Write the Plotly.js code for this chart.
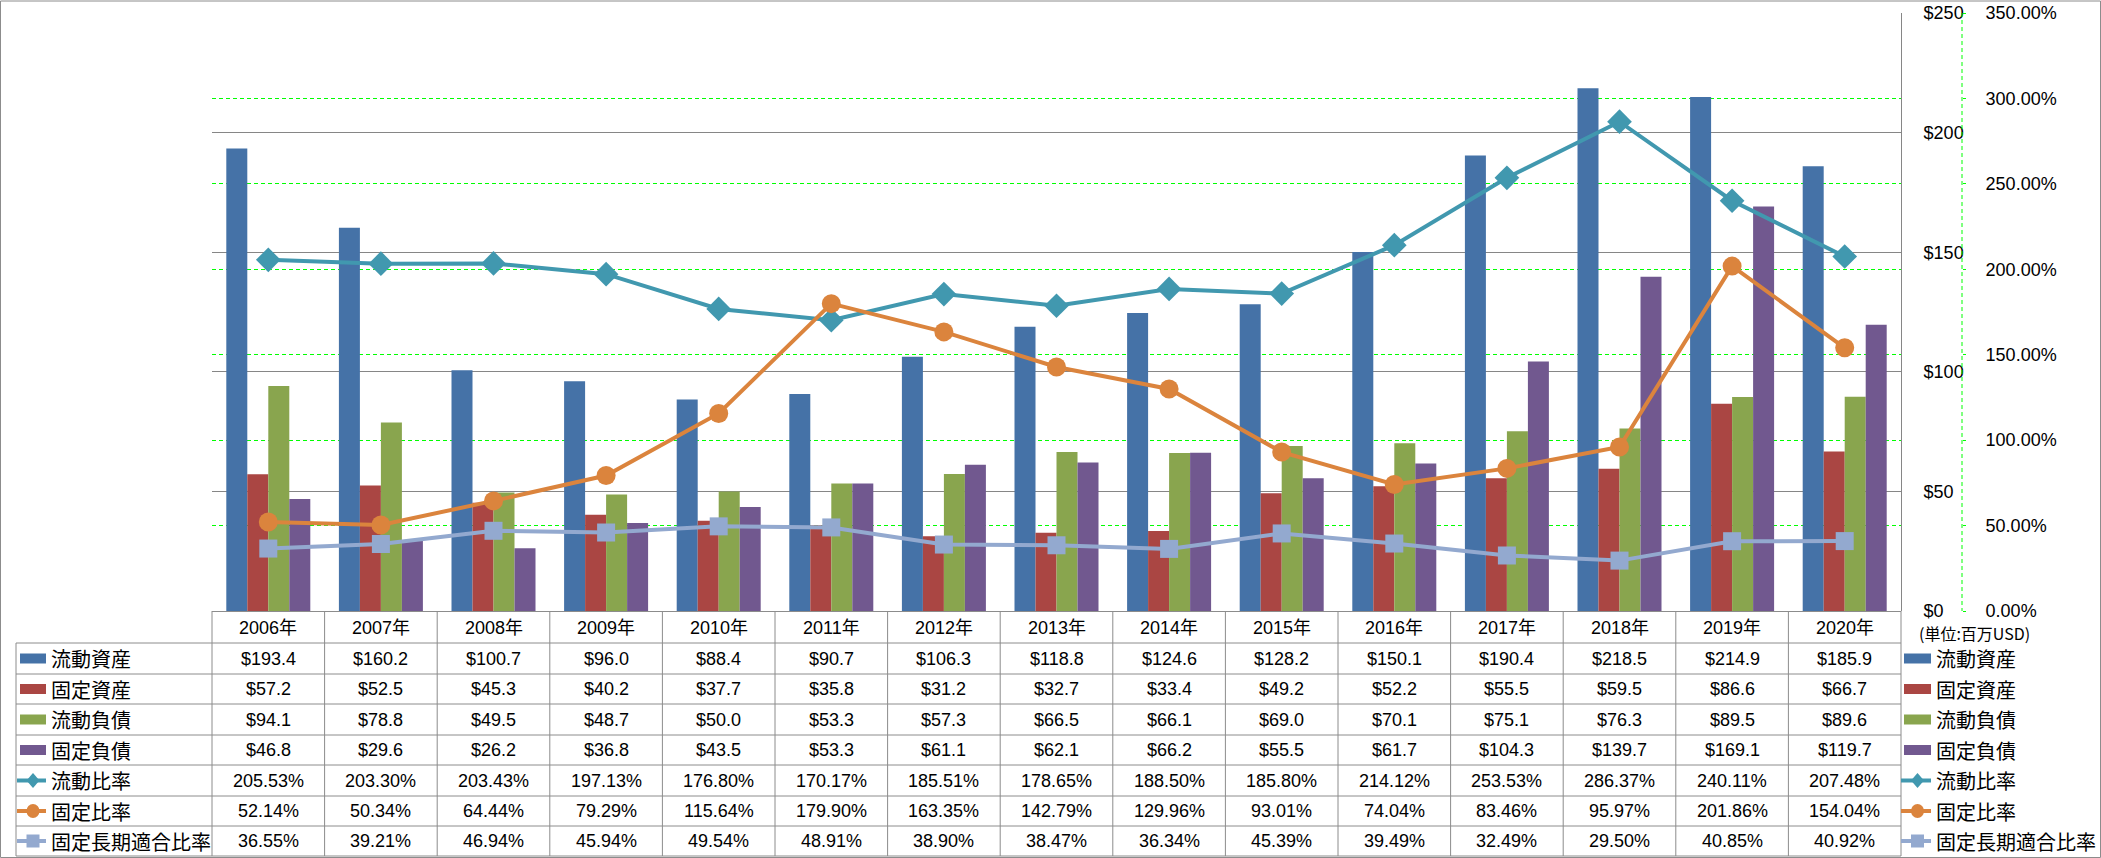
<!DOCTYPE html>
<html>
<head>
<meta charset="utf-8">
<script src="https://cdn.plot.ly/plotly-3.0.1.min.js"></script>
<style>html,body{margin:0;padding:0;background:#fff;}#chart{width:2101px;height:858px;}</style>
</head>
<body>
<div id="chart"></div>
<script>
// ---- data ----
const categories = ['2006年','2007年','2008年','2009年','2010年','2011年','2012年','2013年','2014年','2015年','2016年','2017年','2018年','2019年','2020年'];
const currentAssets = [193.4,160.2,100.7,96.0,88.4,90.7,106.3,118.8,124.6,128.2,150.1,190.4,218.5,214.9,185.9];
const fixedAssets = [57.2,52.5,45.3,40.2,37.7,35.8,31.2,32.7,33.4,49.2,52.2,55.5,59.5,86.6,66.7];
const currentLiabilities = [94.1,78.8,49.5,48.7,50.0,53.3,57.3,66.5,66.1,69.0,70.1,75.1,76.3,89.5,89.6];
const fixedLiabilities = [46.8,29.6,26.2,36.8,43.5,53.3,61.1,62.1,66.2,55.5,61.7,104.3,139.7,169.1,119.7];
const currentRatio = [205.53,203.30,203.43,197.13,176.80,170.17,185.51,178.65,188.50,185.80,214.12,253.53,286.37,240.11,207.48];
const fixedRatio = [52.14,50.34,64.44,79.29,115.64,179.90,163.35,142.79,129.96,93.01,74.04,83.46,95.97,201.86,154.04];
const fixedLongTermRatio = [36.55,39.21,46.94,45.94,49.54,48.91,38.90,38.47,36.34,45.39,39.49,32.49,29.50,40.85,40.92];
const seriesNames = ['流動資産','固定資産','流動負債','固定負債','流動比率','固定比率','固定長期適合比率'];
const unitLabel = '(単位:百万USD)';

// ---- geometry ----
const W = 2101, H = 858;
const plotL = 212, plotR = 1901, plotT = 13, plotB = 611;
const px = x => x / W;
const py = y => (H - y) / H;
const headerCenter = 627.5;
const rowLines = [643, 674, 704, 735, 765, 796, 826, 856];
const rowCenters = rowLines.slice(0, -1).map((v, i) => (v + rowLines[i + 1]) / 2);

const barColors = ['#4572A7', '#AA4643', '#89A54E', '#71588F'];
const lineColors = ['#4198AF', '#DB843D', '#93A9CF'];
const gridGray = '#868686';
const tableGray = '#8c8c8c';
const green = '#00ff00';
const numFont = 'Liberation Sans, Arial, Noto Sans CJK JP, sans-serif';
const cjkFont = 'Noto Sans CJK JP, sans-serif';

const barData = [currentAssets, fixedAssets, currentLiabilities, fixedLiabilities];
const lineData = [currentRatio, fixedRatio, fixedLongTermRatio];
const symbols = ['diamond', 'circle', 'square'];
const markerSizes = [19, 19, 18];

const traces = [];
barData.forEach((vals, i) => {
  traces.push({
    type: 'bar', name: seriesNames[i], x: categories, y: vals,
    marker: { color: barColors[i], line: { width: 0 } },
    xaxis: 'x', yaxis: 'y', hoverinfo: 'skip'
  });
});
lineData.forEach((vals, i) => {
  traces.push({
    type: 'scatter', mode: 'lines+markers', name: seriesNames[4 + i],
    x: categories, y: vals.map(v => v / 100),
    line: { color: lineColors[i], width: 4 },
    marker: { symbol: symbols[i], size: markerSizes[i], color: lineColors[i], line: { width: 0 } },
    xaxis: 'x', yaxis: 'y2', hoverinfo: 'skip', cliponaxis: false
  });
});

// ---- table, legend keys ----
const shapes = [];
const annotations = [];
const L = (x0, y0, x1, y1, color, width, dash) => shapes.push({
  type: 'line', xref: 'paper', yref: 'paper', x0: px(x0), y0: py(y0), x1: px(x1), y1: py(y1),
  line: { color: color, width: width, dash: dash || 'solid' }, layer: 'above'
});

// outer border
shapes.push({ type: 'rect', xref: 'paper', yref: 'paper', x0: px(0.5), y0: py(857.5), x1: px(2100.5), y1: py(1),
  line: { color: tableGray, width: 1 }, fillcolor: 'rgba(0,0,0,0)', layer: 'below' });

// green dashed secondary axis line
L(1962, plotT, 1962, plotB, green, 1, '4px,3px');

// table lines
const colW = (plotR - plotL) / categories.length;
L(plotL, plotB + 0.5, plotR, plotB + 0.5, tableGray, 1);
rowLines.forEach(y => L(16, y, plotR, y, tableGray, 1));
L(16, rowLines[0], 16, rowLines[rowLines.length - 1], tableGray, 1);
for (let k = 0; k <= categories.length; k++) {
  const x = plotL + k * colW;
  L(x, plotB, x, rowLines[rowLines.length - 1], tableGray, 1);
}

// header
categories.forEach(c => annotations.push({
  xref: 'x', yref: 'paper', x: c, y: py(headerCenter), text: c, showarrow: false,
  xanchor: 'center', yanchor: 'middle', font: { family: numFont, size: 18, color: '#000' }
}));

const allRows = barData.concat(lineData);
allRows.forEach((vals, r) => {
  const isBar = r < 4;
  vals.forEach((v, i) => annotations.push({
    xref: 'x', yref: 'paper', x: categories[i], y: py(rowCenters[r]),
    text: isBar ? '$' + v.toFixed(1) : v.toFixed(2) + '%', showarrow: false,
    xanchor: 'center', yanchor: 'middle', font: { family: numFont, size: 18, color: '#000' }
  }));
  // labels: in table and right legend
  [49, 1934].forEach(lx => annotations.push({
    xref: 'paper', yref: 'paper', x: px(lx), y: py(rowCenters[r]), text: seriesNames[r], showarrow: false,
    xanchor: 'left', yanchor: 'middle', font: { family: cjkFont, size: 20, color: '#000' }
  }));
  // keys
  [[20, 46], [1904, 1931]].forEach(([k0, k1]) => {
    const cy = rowCenters[r];
    if (isBar) {
      shapes.push({ type: 'rect', xref: 'paper', yref: 'paper', x0: px(k0), x1: px(k1), y0: py(cy + 5), y1: py(cy - 5),
        fillcolor: barColors[r], line: { width: 0 }, layer: 'above' });
    } else {
      const li = r - 4, col = lineColors[li];
      const cx = (k0 + k1) / 2;
      L(k0 - 3, cy, k1, cy, col, 4);
      if (li === 0) {
        shapes.push({ type: 'path', xref: 'paper', yref: 'paper',
          path: `M${px(cx - 6.5)},${py(cy)} L${px(cx)},${py(cy - 7.5)} L${px(cx + 6.5)},${py(cy)} L${px(cx)},${py(cy + 7.5)} Z`,
          fillcolor: col, line: { width: 0 }, layer: 'above' });
      } else if (li === 1) {
        shapes.push({ type: 'circle', xref: 'paper', yref: 'paper', x0: px(cx - 6.5), x1: px(cx + 6.5), y0: py(cy + 7), y1: py(cy - 7),
          fillcolor: col, line: { width: 0 }, layer: 'above' });
      } else {
        shapes.push({ type: 'rect', xref: 'paper', yref: 'paper', x0: px(cx - 6.5), x1: px(cx + 6.5), y0: py(cy + 6.5), y1: py(cy - 6.5),
          fillcolor: col, line: { width: 0 }, layer: 'above' });
      }
    }
  });
});

annotations.push({ xref: 'paper', yref: 'paper', x: px(1917), y: py(633), text: unitLabel, showarrow: false,
  xanchor: 'left', yanchor: 'middle', font: { family: cjkFont, size: 16, color: '#000' } });

const layout = {
  width: W, height: H,
  margin: { l: 0, r: 0, t: 0, b: 0, pad: 0 },
  paper_bgcolor: '#fff', plot_bgcolor: 'rgba(0,0,0,0)',
  showlegend: false,
  barmode: 'group', bargap: 0.254, bargroupgap: 0,
  font: { family: numFont, size: 18, color: '#000' },
  xaxis: {
    domain: [px(plotL), px(plotR)], type: 'category', range: [-0.5, categories.length - 0.5],
    showticklabels: false, showgrid: false, showline: false, zeroline: false, ticks: '', fixedrange: true
  },
  yaxis: {
    domain: [py(plotB), py(plotT)], range: [0, 250], dtick: 50, tick0: 0,
    side: 'right', anchor: 'x', tickprefix: '$', tickformat: ',d',
    showgrid: true, gridcolor: gridGray, gridwidth: 1,
    showline: true, linecolor: gridGray, linewidth: 1, zeroline: false,
    ticks: '', ticklabelstandoff: 18, tickfont: { family: numFont, size: 18, color: '#000' }, fixedrange: true
  },
  yaxis2: {
    overlaying: 'y', side: 'right', anchor: 'free', position: px(1962),
    range: [0, 3.5], dtick: 0.5, tick0: 0, tickformat: '.2%',
    showgrid: true, gridcolor: green, gridwidth: 1, griddash: '4px,3px',
    showline: false, zeroline: false,
    ticks: 'outside', ticklen: 3, tickcolor: green, tickwidth: 1, ticklabelstandoff: 16,
    tickfont: { family: numFont, size: 18, color: '#000' }, fixedrange: true
  },
  shapes: shapes,
  annotations: annotations
};

Plotly.newPlot('chart', traces, layout, { staticPlot: true, displayModeBar: false });
</script>
</body>
</html>
